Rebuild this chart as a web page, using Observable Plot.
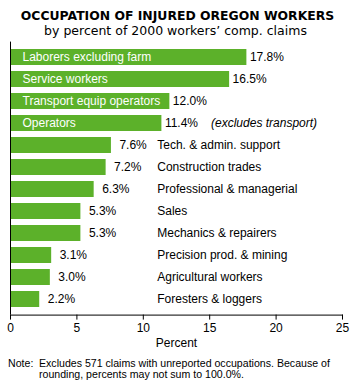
<!DOCTYPE html>
<html><head><meta charset="utf-8">
<script src="https://cdn.jsdelivr.net/npm/d3@7"></script>
<script src="https://cdn.jsdelivr.net/npm/@observablehq/plot@0.6"></script>
<style>
html,body{margin:0;padding:0;background:#fff}
body{width:351px;height:385px;overflow:hidden;position:relative;font-family:"Liberation Sans",Arial,sans-serif;color:#000}
.t{position:absolute;left:0;width:351px;text-align:center;white-space:nowrap;font-family:"DejaVu Sans",sans-serif;line-height:13px}
#title{top:8.8px;font-weight:bold;font-size:12.4px;padding-left:2px}
#subtitle{top:23.8px;font-size:12.5px;padding-left:0}
#chart{position:absolute;left:0;top:38px}
#note{position:absolute;left:8px;top:357.5px;font-size:10.6px;line-height:11px;white-space:nowrap}
#note .k{display:inline-block;width:31px;vertical-align:top}
#note .v{display:inline-block;vertical-align:top}
</style></head>
<body>
<div class="t" id="title"></div>
<div class="t" id="subtitle"></div>
<div id="chart"></div>
<div id="note"></div>
<script>
const titleText = "OCCUPATION OF INJURED OREGON WORKERS";
const subtitleText = "by percent of 2000 workers\u2019 comp. claims";
const occupations = ["Laborers excluding farm","Service workers","Transport equip operators","Operators","Tech. & admin. support","Construction trades","Professional & managerial","Sales","Mechanics & repairers","Precision prod. & mining","Agricultural workers","Foresters & loggers"];
const percents = [17.8,16.5,12.0,11.4,7.6,7.2,6.3,5.3,5.3,3.1,3.0,2.2];
const labelInside = [true,true,true,true,false,false,false,false,false,false,false,false];
const remarks = ["","","","(excludes transport)","","","","","","","",""];
const xTicks = [0,5,10,15,20,25];
const axisLabel = "Percent";
const noteKey = "Note:";
const noteLines = ["Excludes 571 claims with unreported occupations. Because of","rounding, percents may not sum to 100.0%."];

document.getElementById("title").textContent = titleText;
document.getElementById("subtitle").textContent = subtitleText;
const note = document.getElementById("note");
note.innerHTML = `<span class="k"></span><span class="v"></span>`;
note.querySelector(".k").textContent = noteKey;
note.querySelector(".v").innerHTML = noteLines.map(s => s.replace(/&/g,"&amp;").replace(/</g,"&lt;")).join("<br>");

const rows = occupations.map((name, i) => ({name, pct: percents[i], inside: labelInside[i], remark: remarks[i]}));
const LABEL_X = 11.05;   // x (in percent units) where outside category labels start
const REMARK_X = 15.1;
const green = "#5cb12a";

const chart = Plot.plot({
  width: 351,
  height: 320,
  marginLeft: 10,
  marginRight: 9,
  marginTop: 3.6,
  marginBottom: 43.4,
  style: {fontFamily: "'Liberation Sans', Arial, sans-serif", fontSize: "12px", color: "#000", background: "#fff", overflow: "visible"},
  x: {domain: [0, 25], ticks: xTicks, tickFormat: d => String(d), label: null},
  y: {domain: occupations, axis: null, paddingInner: 0.288, paddingOuter: 0.105},
  marks: [
    Plot.barX(rows, {x: "pct", y: "name", fill: green}),
    Plot.ruleX([0], {stroke: "#000", strokeWidth: 1}),
    Plot.frame({anchor: "bottom", stroke: "#000"}),
    Plot.axisX({ticks: xTicks, tickSize: 5, tickPadding: 3, tickFormat: d => String(d), fontSize: 12, label: null}),
    Plot.text([axisLabel], {frameAnchor: "bottom", text: d => d, dy: 32, fontSize: 12, lineAnchor: "bottom"}),
    Plot.text(rows.filter(d => d.inside), {x: 0, y: "name", text: "name", dx: 12, textAnchor: "start", fill: "#fff", fontSize: 12}),
    Plot.text(rows.filter(d => d.inside), {x: "pct", y: "name", text: d => d.pct.toFixed(1) + "%", dx: 3, textAnchor: "start", fill: "#000", fontSize: 12}),
    Plot.text(rows.filter(d => !d.inside), {x: "pct", y: "name", text: d => d.pct.toFixed(1) + "%", dx: 8, textAnchor: "start", fill: "#000", fontSize: 12}),
    Plot.text(rows.filter(d => !d.inside), {x: () => LABEL_X, y: "name", text: "name", textAnchor: "start", fill: "#000", fontSize: 12}),
    Plot.text(rows.filter(d => d.remark), {x: () => REMARK_X, y: "name", text: "remark", textAnchor: "start", fill: "#000", fontSize: 12, fontStyle: "italic"})
  ]
});
document.getElementById("chart").appendChild(chart);
</script>
</body></html>
